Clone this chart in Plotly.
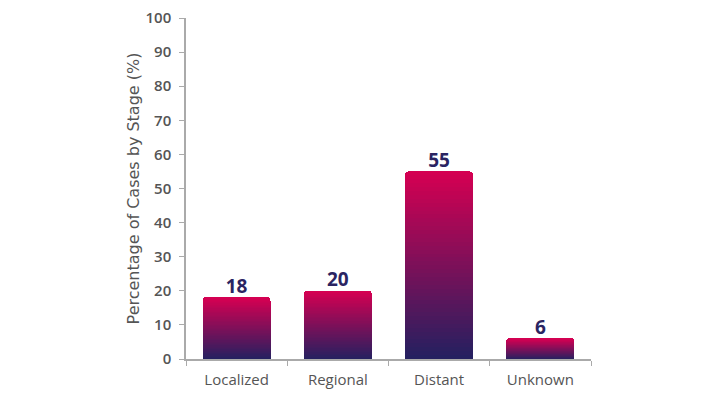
import plotly.graph_objects as go

categories = ["Localized", "Regional", "Distant", "Unknown"]
values = [18, 20, 55, 6]
y_ticks = [0, 10, 20, 30, 40, 50, 60, 70, 80, 90, 100]

TOP = (212, 0, 82)      # pink at bar top
BOTTOM = (37, 32, 96)   # navy at bar bottom
N_STEPS = 48

def mix(t):
    r = round(BOTTOM[0] + (TOP[0] - BOTTOM[0]) * t)
    g = round(BOTTOM[1] + (TOP[1] - BOTTOM[1]) * t)
    b = round(BOTTOM[2] + (TOP[2] - BOTTOM[2]) * t)
    return f"rgb({r},{g},{b})"

fig = go.Figure()
# Each bar is built from equal stacked slices so its gradient spans its own height
for k in range(N_STEPS):
    fig.add_trace(go.Bar(
        x=categories,
        y=[v / N_STEPS for v in values],
        marker=dict(color=mix(k / (N_STEPS - 1)), line=dict(width=0)),
        hoverinfo="skip",
        showlegend=False,
    ))

fig.add_trace(go.Scatter(
    x=categories, y=values, mode="text",
    text=[str(v) for v in values],
    textposition="top center",
    textfont=dict(family="Open Sans", size=19, color="#2a2462", weight="bold"),
    showlegend=False, hoverinfo="skip",
    cliponaxis=False,
))

fig.update_layout(
    width=700, height=387,
    margin=dict(l=178, r=117, t=10, b=36, autoexpand=False),
    paper_bgcolor="white", plot_bgcolor="white",
    barmode="stack", bargap=0.33, barcornerradius=3,
    font=dict(family="Open Sans", color="#555555"),
    xaxis=dict(
        type="category", automargin=False,
        showline=True, linecolor="#aaaaaa", linewidth=1.5,
        ticks="outside", tickson="boundaries", ticklen=5, tickcolor="#aaaaaa",
        tickfont=dict(size=15, color="#555555"),
        ticklabelstandoff=6,
        showgrid=False, zeroline=False, fixedrange=True,
    ),
    yaxis=dict(
        range=[0, 100], tickvals=y_ticks, automargin=False,
        showline=True, linecolor="#aaaaaa", linewidth=1.5,
        ticks="outside", ticklen=5, tickcolor="#aaaaaa",
        tickfont=dict(size=15, color="#555555", weight=600),
        ticklabelstandoff=5, ticklabeloverflow="allow",
        showgrid=False, zeroline=False,
        title=dict(text="Percentage of Cases by Stage (%)",
                   font=dict(family="DejaVu Sans", size=16, color="#555555"),
                   standoff=2),
    ),
)

fig.write_html("out.html")
